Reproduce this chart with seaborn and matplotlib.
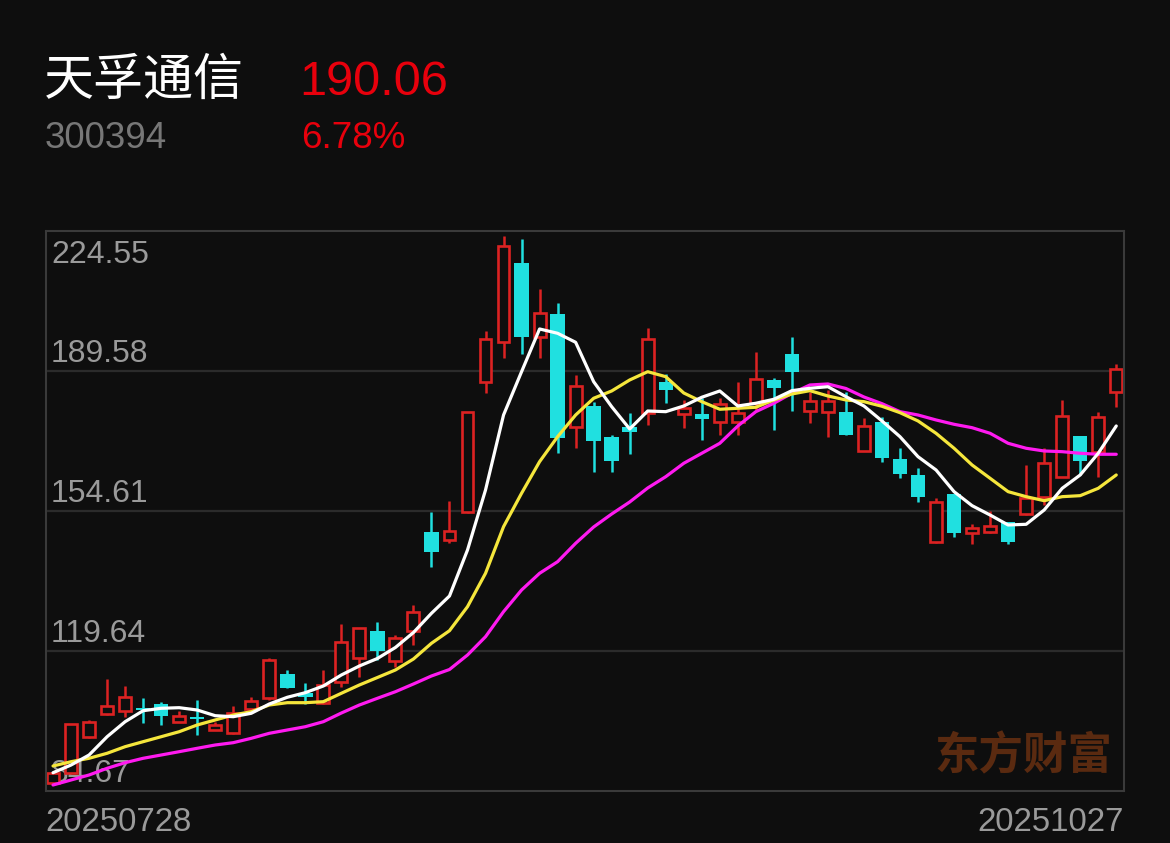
import matplotlib
matplotlib.use('Agg')
import matplotlib.pyplot as plt
import numpy as np
import pandas as pd
import seaborn as sns
from matplotlib.transforms import offset_copy

# header texts
stock_name = '天孚通信'
stock_code = '300394'
last_price = '190.06'
pct_change = '6.78%'
start_label = '20250728'
end_label = '20251027'
watermark = '东方财富'
y_ticks = [84.67, 119.64, 154.61, 189.58, 224.55]

# daily candles, 2025-07-28 .. 2025-10-27 (60 sessions)
opens = [86.74, 89.24, 98.08, 103.90, 104.73, 105.20, 106.40, 101.91, 103.00, 99.91,
         99.08, 105.08, 107.83, 113.82, 109.08, 106.58, 111.97, 117.82, 124.71, 117.22,
         124.64, 149.44, 147.37, 154.29, 186.76, 196.75, 216.49, 198.00, 203.75, 175.67,
         180.92, 173.17, 175.52, 179.02, 186.76, 178.84, 178.77, 176.92, 176.92, 181.67,
         187.34, 193.76, 179.67, 179.27, 179.42, 169.60, 176.92, 167.53, 163.61, 146.79,
         158.78, 149.04, 149.29, 151.94, 153.79, 158.19, 163.18, 173.35, 169.43, 184.26]
highs = [89.30, 101.50, 102.41, 112.64, 110.90, 107.90, 106.98, 104.73, 107.40, 101.98,
         105.90, 108.07, 117.82, 114.90, 111.57, 114.90, 126.31, 125.50, 126.96, 123.64,
         131.13, 154.29, 157.19, 179.30, 199.58, 223.38, 222.56, 210.07, 206.64, 188.59,
         181.92, 173.60, 179.02, 200.25, 188.76, 182.34, 182.77, 182.77, 186.91, 194.25,
         187.76, 198.00, 184.42, 184.84, 184.42, 177.77, 178.17, 170.43, 165.28, 157.94,
         158.80, 151.29, 154.69, 151.94, 166.11, 170.28, 182.34, 173.40, 179.42, 191.34]
lows = [86.70, 89.20, 98.00, 103.66, 103.24, 101.66, 101.08, 101.90, 98.66, 99.90,
        99.00, 105.00, 107.40, 110.30, 106.40, 106.50, 110.72, 113.22, 117.39, 115.72,
        121.14, 140.70, 146.70, 154.20, 184.02, 192.91, 193.76, 192.91, 169.18, 170.42,
        164.43, 164.28, 168.78, 176.10, 181.52, 175.27, 172.35, 173.60, 173.60, 179.84,
        174.85, 179.67, 176.67, 173.17, 173.50, 169.50, 166.93, 162.93, 156.79, 146.70,
        148.19, 146.37, 149.20, 146.37, 153.70, 156.11, 163.10, 163.61, 163.18, 180.67]
closes = [89.24, 101.41, 101.98, 105.90, 108.23, 105.00, 103.40, 103.40, 102.70, 101.16,
          104.08, 107.23, 117.39, 110.32, 108.08, 111.15, 121.97, 125.39, 119.72, 122.89,
          129.31, 144.45, 149.69, 179.27, 197.58, 220.88, 198.00, 204.15, 172.92, 185.91,
          172.17, 167.18, 174.27, 197.58, 184.84, 180.27, 177.52, 181.34, 179.17, 187.59,
          185.26, 189.41, 182.09, 182.09, 173.60, 175.85, 167.78, 163.86, 158.19, 156.94,
          149.04, 150.29, 150.94, 146.79, 157.79, 166.68, 178.34, 167.10, 178.00, 190.06]

# moving averages as drawn on the chart
ma5 = [89.24, 91.16, 93.66, 98.23, 101.98, 104.73, 105.33, 105.48, 104.90, 103.48,
       103.23, 104.08, 106.40, 108.08, 109.23, 110.90, 113.65, 115.90, 117.77, 120.52,
       124.26, 129.06, 133.38, 144.87, 159.86, 178.59, 189.41, 200.08, 199.00, 196.75,
       186.91, 180.67, 175.10, 179.59, 179.42, 180.84, 183.02, 184.59, 180.84, 181.52,
       182.52, 184.67, 185.26, 185.66, 183.17, 180.84, 177.10, 173.17, 168.18, 164.86,
       159.44, 155.94, 153.61, 151.12, 151.29, 154.86, 160.28, 163.61, 169.03, 175.85]
ma10 = [90.92, 91.99, 92.84, 94.09, 95.74, 96.99, 98.23, 99.48, 101.16, 102.41,
        103.65, 104.48, 106.15, 106.73, 106.73, 106.98, 109.08, 111.15, 113.02, 114.90,
        117.64, 121.57, 124.71, 130.71, 139.05, 150.69, 159.04, 166.93, 173.17, 178.59,
        182.77, 184.59, 187.34, 189.41, 188.16, 184.09, 181.92, 180.02, 180.27, 180.52,
        182.34, 183.84, 184.67, 183.34, 182.34, 181.92, 180.77, 179.17, 177.10, 174.02,
        170.28, 166.10, 162.78, 159.44, 158.19, 157.19, 158.19, 158.44, 160.28, 163.61]
ma20 = [86.17, 87.42, 88.67, 90.34, 91.74, 92.84, 93.66, 94.49, 95.34, 96.16,
        96.74, 97.83, 99.08, 99.91, 100.73, 101.98, 104.15, 106.15, 107.83, 109.47,
        111.40, 113.40, 115.02, 118.64, 123.21, 129.46, 134.88, 139.05, 141.95, 146.54,
        150.62, 153.86, 156.86, 160.36, 163.18, 166.53, 169.03, 171.52, 175.85, 179.42,
        181.52, 184.01, 186.09, 186.34, 185.21, 183.09, 181.42, 179.42, 178.59, 177.35,
        176.27, 175.42, 174.02, 171.52, 170.28, 169.60, 169.43, 169.03, 168.78, 168.78]

BG = '#0e0e0e'
UP = '#dc2222'
DOWN = '#20e0e0'
LABEL = '#9a9a9a'
W, H = 1170, 843

sns.set_theme(style='dark', rc={'figure.facecolor': BG, 'axes.facecolor': BG})
plt.rcParams['font.family'] = ['Liberation Sans', 'Noto Sans CJK SC', 'DejaVu Sans']

fig = plt.figure(figsize=(W / 100, H / 100), dpi=100, facecolor=BG)
ax = fig.add_axes([46 / W, 52 / H, 1078 / W, 560 / H])

df = pd.DataFrame({'open': opens, 'high': highs, 'low': lows, 'close': closes})
df['idx'] = np.arange(len(df))
up = df['close'] >= df['open']
body_top = df[['open', 'close']].max(axis=1)
body_bot = df[['open', 'close']].min(axis=1)
body_h = (body_top - body_bot).clip(lower=0.35)

# wicks: through the filled (down) bodies, around the hollow (up) ones
dn = df[~up]
ax.vlines(dn['idx'], dn['low'], dn['high'], color=DOWN, lw=1.8, zorder=2)
u = df[up]
ax.vlines(u['idx'], body_top[up], u['high'], color=UP, lw=1.8, zorder=2)
ax.vlines(u['idx'], u['low'], body_bot[up], color=UP, lw=1.8, zorder=2)

ax.bar(dn['idx'], body_h[~up], bottom=body_bot[~up], width=0.8,
       color=DOWN, edgecolor=DOWN, lw=0, zorder=2.5)
ax.bar(u['idx'], body_h[up], bottom=body_bot[up], width=0.66,
       color=BG, edgecolor=UP, lw=1.9, zorder=2.5)

ma = pd.DataFrame({'idx': np.tile(df['idx'], 3),
                   'value': ma5 + ma10 + ma20,
                   'line': ['MA5'] * 60 + ['MA10'] * 60 + ['MA20'] * 60})
sns.lineplot(data=ma, x='idx', y='value', hue='line',
             palette={'MA5': '#ffffff', 'MA10': '#f5e63c', 'MA20': '#ff1af0'},
             hue_order=['MA20', 'MA10', 'MA5'],
             lw=2.3, legend=False, ax=ax, zorder=3)

ax.set_xlim(-0.39, 59.43)
ax.set_ylim(y_ticks[0], y_ticks[-1])
ax.set_xticks([])
ax.set_yticks([])
ax.set_xlabel('')
ax.set_ylabel('')
ax.grid(False)
for sp in ax.spines.values():
    sp.set_visible(True)
    sp.set_color('#3a3a3a')
    sp.set_linewidth(1.5)
for v in y_ticks[1:-1]:
    ax.axhline(v, color='#2b2b2b', lw=1.6, zorder=1)

# price labels sit inside the plot, just above each grid line
for v in y_ticks:
    if v == y_ticks[-1]:
        tr = offset_copy(ax.transData, fig=fig, x=5, y=-32, units='dots')
    else:
        tr = offset_copy(ax.transData, fig=fig, x=5, y=9, units='dots')
    ax.text(-0.39, v, f'{v:.2f}', transform=tr, color=LABEL, fontsize=23,
            ha='left', va='baseline', zorder=1.5)

ax.text(0.907, 0.062, watermark, transform=ax.transAxes, color='#5a2a10',
        fontsize=32, fontweight='bold', family=['Noto Sans CJK SC'],
        ha='center', va='center', zorder=1.2)

def fy(y):
    return 1 - y / H

fig.text(44 / W, fy(81), stock_name, color='white', fontsize=36,
         family=['Noto Sans CJK SC'], ha='left', va='center')
fig.text(299 / W, fy(95), last_price, color='#e8000c', fontsize=35,
         ha='left', va='baseline')
fig.text(45 / W, fy(148), stock_code, color='#777777', fontsize=26.5,
         ha='left', va='baseline')
fig.text(301 / W, fy(148), pct_change, color='#e8000c', fontsize=26.5,
         ha='left', va='baseline')
fig.text(45 / W, fy(831), start_label, color=LABEL, fontsize=23.8,
         ha='left', va='baseline')
fig.text(1124 / W, fy(831), end_label, color=LABEL, fontsize=23.8,
         ha='right', va='baseline')

fig.savefig('out.png', dpi=100, facecolor=BG)
